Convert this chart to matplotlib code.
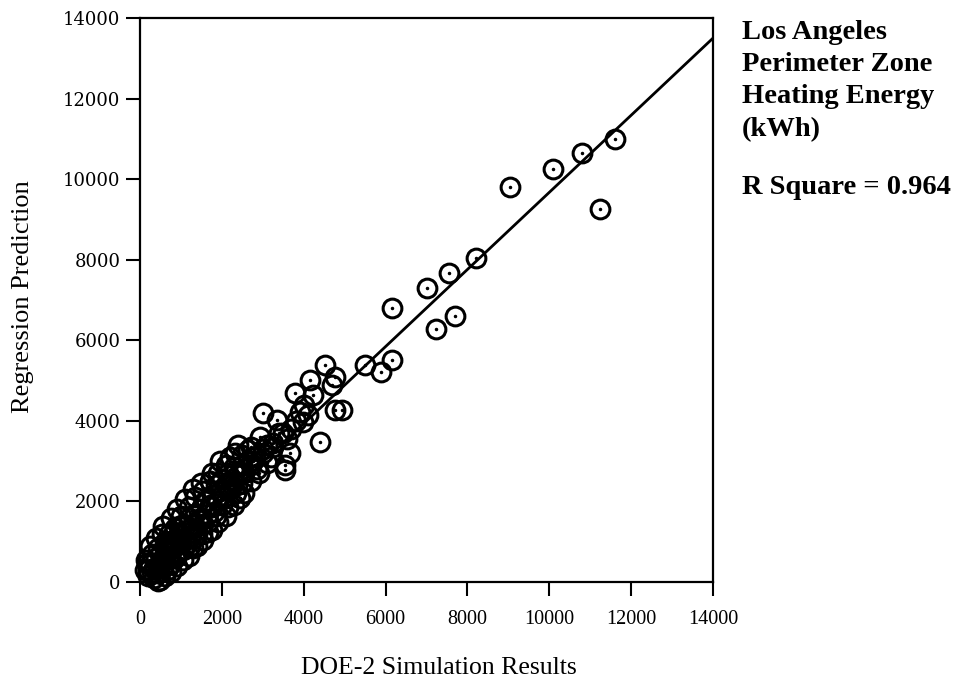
import matplotlib
matplotlib.use("Agg")
import matplotlib.pyplot as plt
import numpy as np

# DOE-2 simulated vs regression predicted heating energy (kWh)
doe2 = [
    120, 200, 250, 300, 350, 380, 420, 450, 480, 500, 540, 560, 600, 620, 650,
    700, 720, 760, 800, 830, 850, 900, 920, 950, 980, 1000, 1050, 1080, 1100,
    1150, 1200, 1220, 1250, 1300, 1300, 1350, 1400, 1450, 1500, 1520, 1550,
    1600, 1650, 1650, 1700, 1760, 1750, 1800, 1850, 1900, 1950, 2000, 2000,
    2050, 2100, 2150, 2150, 2200, 2250, 2300, 2320, 2370, 2400, 2450, 2500,
    2500, 2550, 2640, 2700, 2700, 2800, 2850, 2930, 3000, 3000, 3100, 3200,
    3250, 3250, 3350, 3400, 3500, 3550, 3550, 3600, 3670, 3700, 3790, 3800,
    3900, 3980, 4000, 4100, 4150, 4230, 4400, 4520, 4760, 4760, 4930, 4700,
    5500, 6150, 5900, 6150, 7000, 7550, 8200, 9050, 10100, 10800, 11600,
    11250, 7230, 7700, 450, 170,
    150, 300, 250, 450, 600, 400, 700, 550, 850, 750, 1000, 900, 1200, 1100,
    1350, 1300, 1550, 1500, 1700, 1900, 2100, 1950, 2200, 2500, 2400,
    600, 750, 900, 1050, 1200, 1400, 1550, 1750, 1900, 2100, 2300, 2550,
    2700, 2900, 3100, 800, 1000, 1250, 1500, 1750, 2000, 2250, 2500, 2750,
    3000, 350, 550, 200, 650, 900, 1150, 1400, 1650, 1850, 2350,
]
predicted = [
    300, 150, 450, 250, 100, 600, 220, 400, 50, 700, 1200, 350, 550, 800, 300,
    650, 1000, 450, 850, 1250, 600, 1100, 750, 1400, 950, 1200, 800, 1450, 1050,
    1300, 1600, 900, 1150, 1450, 850, 1700, 1300, 1550, 1800, 1200, 1450,
    2000, 1700, 1250, 1900, 2700, 2150, 1750, 2400, 2000, 2250, 2550, 1900,
    2100, 2400, 1850, 2700, 2300, 2550, 2850, 3200, 2400, 2650, 2080, 2900,
    2450, 2700, 3280, 2900, 3350, 3100, 2800, 3600, 4190, 3200, 3400, 3100,
    3350, 3450, 4020, 3700, 3700, 2900, 2780, 3550, 3200, 3800, 4690, 4000,
    4220, 3970, 4400, 4150, 5010, 4640, 3470, 5390, 5090, 4270, 4270, 4900,
    5380, 5500, 5210, 6800, 7300, 7670, 8050, 9800, 10250, 10650, 11000,
    9250, 6270, 6600, 30, 470,
    550, 700, 900, 850, 1000, 1100, 1200, 1400, 1350, 1600, 1650, 1800, 1850,
    2050, 2100, 2300, 2250, 2450, 2500, 2700, 2900, 3000, 3100, 3150, 3400,
    150, 250, 400, 550, 650, 900, 1050, 1300, 1500, 1650, 1900, 2200,
    2500, 2700, 2950, 1050, 1000, 1350, 1600, 1850, 2150, 2400, 2700, 3000,
    3300, 350, 600, 300, 900, 700, 950, 1200, 1500, 1650, 2200,
]

# fitted regression line
fit_x = [150, 14000]
fit_intercept = 102
fit_slope = 0.957

ticks = [0, 2000, 4000, 6000, 8000, 10000, 12000, 14000]

fig = plt.figure(figsize=(9.64, 6.86), dpi=100)
ax = fig.add_axes([140 / 964, 1 - 582 / 686, (713 - 140) / 964, (582 - 18) / 686])

fx = np.array(fit_x)
ax.plot(fx, fit_intercept + fit_slope * fx, color="black", lw=2.0, zorder=2)

ax.plot(doe2, predicted, linestyle="none", marker="o", markersize=13.5,
        markerfacecolor="none", markeredgecolor="black", markeredgewidth=2.2,
        clip_on=False, zorder=3)
ax.plot(doe2, predicted, linestyle="none", marker=".", markersize=3,
        color="black", clip_on=False, zorder=3)

ax.set_xlim(0, 14000)
ax.set_ylim(0, 14000)
ax.set_xticks(ticks)
ax.set_yticks(ticks)
ax.set_xticklabels([str(t) for t in ticks], fontfamily="Liberation Serif", fontsize=14.5)
ax.set_yticklabels([str(t) for t in ticks], fontfamily="DejaVu Serif", fontsize=13)
ax.tick_params(direction="out", length=10, width=1.5, pad=4)
ax.tick_params(axis="x", pad=10)
for s in ax.spines.values():
    s.set_linewidth(1.6)

ax.set_xlabel("DOE-2 Simulation Results", fontfamily="Liberation Serif",
              fontsize=18.5)
ax.xaxis.set_label_coords((439 - 140) / 573, -(668 - 582) / 564)
ax.xaxis.label.set_va("center")
ax.set_ylabel("Regression Prediction", fontfamily="Liberation Serif",
              fontsize=19)
ax.yaxis.set_label_coords(-(140 - 23) / 573, (582 - 297) / 564)
ax.yaxis.label.set_va("center")

fig.text(742 / 964, 1 - 20 / 686,
         "Los Angeles\nPerimeter Zone\nHeating Energy\n(kWh)",
         fontfamily="Liberation Serif", fontweight="bold", fontsize=20.5,
         va="top", ha="left", linespacing=1.38)
fig.text(742 / 964, 1 - 187 / 686, "R Square = 0.964",
         fontfamily="Liberation Serif", fontweight="bold", fontsize=20.5,
         va="center", ha="left")

fig.savefig("out.png", dpi=100, facecolor="white")
